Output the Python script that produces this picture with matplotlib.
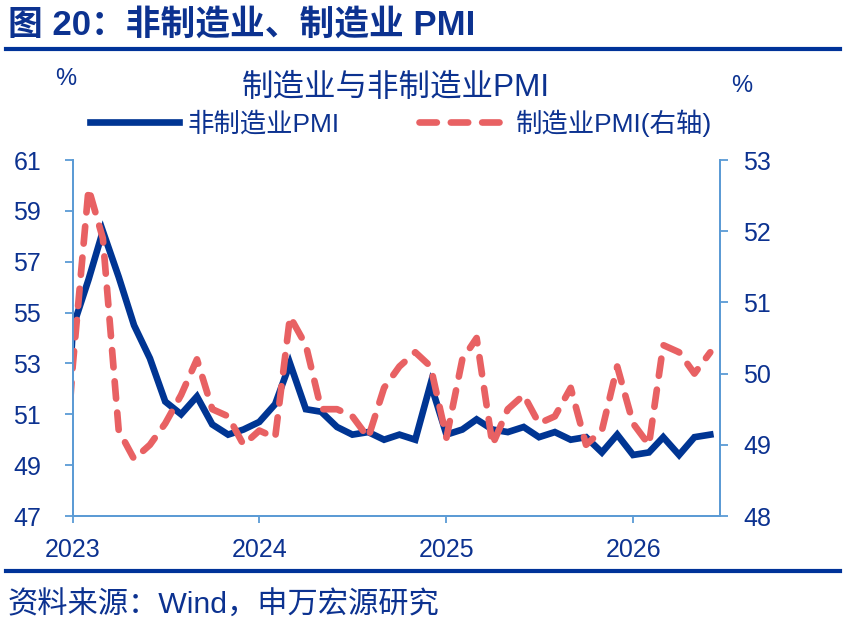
import pandas as pd
import matplotlib
matplotlib.use('Agg')
import matplotlib.pyplot as plt
from matplotlib.lines import Line2D

plt.rcParams['font.family'] = ['Liberation Sans', 'Noto Sans CJK SC', 'DejaVu Sans']

# 月度数据（2022-12 起，第一点被坐标轴裁掉）
months = pd.date_range('2022-12-01', '2026-06-01', freq='MS')
non_mfg = [41.6,
           54.4, 56.3, 58.2, 56.4, 54.5, 53.2, 51.5, 51.0, 51.7, 50.6, 50.2, 50.4,
           50.7, 51.4, 53.0, 51.2, 51.1, 50.5, 50.2, 50.3, 50.0, 50.2, 50.0, 52.2,
           50.2, 50.4, 50.8, 50.4, 50.3, 50.5, 50.1, 50.3, 50.0, 50.1, 49.5, 50.2,
           49.4, 49.5, 50.1, 49.4, 50.1, 50.2]
mfg = [47.0,
       50.1, 52.6, 51.9, 49.2, 48.8, 49.0, 49.3, 49.7, 50.2, 49.5, 49.4, 49.0,
       49.2, 49.1, 50.8, 50.4, 49.5, 49.5, 49.4, 49.1, 49.8, 50.1, 50.3, 50.1,
       49.1, 50.2, 50.5, 49.0, 49.5, 49.7, 49.3, 49.4, 49.8, 49.0, 49.2, 50.1,
       49.3, 49.0, 50.4, 50.3, 50.0, 50.3]
left_ticks = [47, 49, 51, 53, 55, 57, 59, 61]
right_ticks = [48, 49, 50, 51, 52, 53]
year_ticks = pd.to_datetime(['2023-01-01', '2024-01-01', '2025-01-01', '2026-01-01'])
year_labels = ['2023', '2024', '2025', '2026']

TXT = '#0C3290'
BLUE = '#003593'
RED = '#E86163'
SPINE = '#5B9BD5'

fig = plt.figure(figsize=(8.46, 6.22), dpi=100)
ax = fig.add_axes([72.7 / 846, 1 - 516 / 622, (720 - 72.7) / 846, (516 - 160) / 622])
ax2 = ax.twinx()

l1, = ax.plot(months, non_mfg, color=BLUE, lw=4.8, solid_joinstyle='miter')
l2, = ax2.plot(months, mfg, color=RED, lw=4.8, dash_capstyle='round')
l2.set_dashes((2.6, 2.1))

ax.set_xlim(pd.Timestamp('2023-01-01'), pd.Timestamp('2026-06-20'))
ax.set_ylim(47, 61)
ax2.set_ylim(48, 53)
ax.set_yticks(left_ticks)
ax2.set_yticks(right_ticks)
ax.set_xticks(year_ticks)
ax.set_xticklabels(year_labels)

for a in (ax, ax2):
    a.spines['top'].set_visible(False)
    for s in ('left', 'right', 'bottom'):
        a.spines[s].set_color(SPINE)
        a.spines[s].set_linewidth(1.3)

ax.tick_params(axis='y', direction='out', length=5.8, width=1.3, color=SPINE,
               labelsize=18, labelcolor=TXT, pad=17)
ax2.tick_params(axis='y', direction='out', length=5.8, width=1.3, color=SPINE,
                labelsize=18, labelcolor=TXT, pad=11)
ax.tick_params(axis='x', direction='out', length=4.7, width=1.3, color=SPINE,
               labelsize=18, labelcolor=TXT, pad=11)

# 标题与说明
fig.text(8 / 846, 1 - 25 / 622, '图 20：非制造业、制造业 PMI', fontsize=25,
         fontweight='bold', color=TXT, va='center', ha='left')
fig.add_artist(Line2D([6 / 846, 840 / 846], [1 - 49 / 622, 1 - 49 / 622],
                      transform=fig.transFigure, color='#003399', lw=3))
fig.add_artist(Line2D([6 / 846, 840 / 846], [1 - 571 / 622, 1 - 571 / 622],
                      transform=fig.transFigure, color='#003399', lw=3))
fig.text(8 / 846, 1 - 605 / 622, '资料来源：Wind，申万宏源研究', fontsize=21.8,
         color=TXT, va='center', ha='left')

fig.text(396 / 846, 1 - 88 / 622, '制造业与非制造业PMI', fontsize=22.7,
         color=TXT, va='center', ha='center')
fig.text(66 / 846, 1 - 79 / 622, '%', fontsize=17, color=TXT, va='center', ha='center')
fig.text(742 / 846, 1 - 86 / 622, '%', fontsize=17, color=TXT, va='center', ha='center')

leg = fig.legend([l1, l2], ['非制造业PMI', '制造业PMI(右轴)'], loc='center',
                 bbox_to_anchor=(401 / 846, 1 - 123 / 622), ncol=2, frameon=False,
                 fontsize=19, handlelength=3.4, handletextpad=0.3,
                 columnspacing=3.0, borderpad=0, borderaxespad=0)
for t in leg.get_texts():
    t.set_color(TXT)

plt.savefig('out.png', dpi=100)
plt.close()
